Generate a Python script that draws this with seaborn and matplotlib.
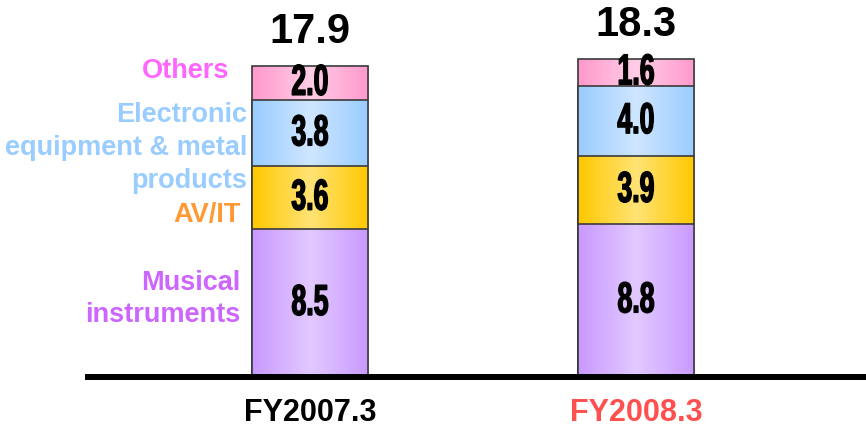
import matplotlib
matplotlib.use("Agg")
import numpy as np
import pandas as pd
import matplotlib.pyplot as plt
import seaborn as sns
from matplotlib.patheffects import AbstractPathEffect
from matplotlib.transforms import Affine2D
from matplotlib.colors import LinearSegmentedColormap

# Sales by business segment (billion yen)
years = ["FY2007.3", "FY2008.3"]
musical = [8.5, 8.8]
av_it = [3.6, 3.9]
electronic = [3.8, 4.0]
others = [2.0, 1.6]
totals = [17.9, 18.3]

segment_names = ["Musical\ninstruments", "AV/IT",
                 "Electronic\nequipment & metal\nproducts", "Others"]
segment_values = [musical, av_it, electronic, others]
# (edge colour, centre colour) of the horizontal gradient fill
segment_fills = [("#C999FF", "#E2C9FF"),
                 ("#FFC800", "#FFE375"),
                 ("#99CCFF", "#CFE6FF"),
                 ("#FF99CC", "#FFCDE6")]
segment_text_colors = ["#CC66FF", "#FF9933", "#99CCFF", "#FF66FF"]
year_colors = ["#000000", "#FF5050"]

sns.set_theme(style="white")
plt.rcParams["font.family"] = ["Liberation Sans", "DejaVu Sans"]


class Stretch(AbstractPathEffect):
    """Scale glyph outlines about their own centre and thicken them slightly
    (condensed, tall, heavy digits)."""

    def __init__(self, sx, sy, stroke=0.0):
        super().__init__()
        self.sx, self.sy, self.stroke = sx, sy, stroke

    def draw_path(self, renderer, gc, tpath, affine, rgbFace=None):
        ext = tpath.get_extents()
        cx, cy = (ext.x0 + ext.x1) / 2, (ext.y0 + ext.y1) / 2
        t = (Affine2D().translate(-cx, -cy).scale(self.sx, self.sy)
             .translate(cx, cy) + affine)
        gc0 = renderer.new_gc()
        gc0.copy_properties(gc)
        if self.stroke > 0:
            gc0.set_linewidth(self.stroke)
            gc0.set_foreground(rgbFace if rgbFace is not None else "black")
            gc0.set_joinstyle("round")
        renderer.draw_path(gc0, tpath, t, rgbFace)
        gc0.restore()


W, H = 866, 428
fig = plt.figure(figsize=(W / 100, H / 100), dpi=100)
base_px = 377          # baseline, pixels from top
px_per_unit = 17.4
ax = fig.add_axes([0, (H - base_px) / H, 1, base_px / H])

df = pd.DataFrame({"year": years})
cum = np.cumsum(np.array(segment_values), axis=0)   # stacked tops
n_seg = len(segment_values)

bar_width = 0.356
# draw from the tallest stack down so each lower segment sits on top
for k in range(n_seg - 1, -1, -1):
    z = n_seg - k
    df["top"] = cum[k]
    n_before = len(ax.patches)
    sns.barplot(data=df, x="year", y="top", width=bar_width, ax=ax,
                color=segment_fills[k][0], edgecolor="#3a3a3a",
                linewidth=1.2, errorbar=None, zorder=z)
    edge, centre = segment_fills[k]
    cmap = LinearSegmentedColormap.from_list(f"g{k}", [edge, centre, edge])
    grad = np.linspace(0, 1, 256)[None, :]
    for patch in ax.patches[n_before:]:
        x0, y0 = patch.get_x(), patch.get_y()
        x1, y1 = x0 + patch.get_width(), y0 + patch.get_height()
        im = ax.imshow(grad, extent=[x0, x1, y0, y1], aspect="auto",
                       cmap=cmap, interpolation="bilinear", zorder=z + 0.1)
        im.set_clip_path(patch)
        patch.set_facecolor("none")
        patch.set_zorder(z + 0.2)

# segment values inside the bars
for k, vals in enumerate(segment_values):
    for i, v in enumerate(vals):
        ax.text(i, cum[k][i] - v / 2, f"{v:.1f}", ha="center", va="center",
                fontsize=24, fontweight="bold", color="black", zorder=20,
                path_effects=[Stretch(0.8, 1.3, stroke=1.0)])

# totals above the bars
for i, t in enumerate(totals):
    ax.annotate(f"{t:.1f}", (i, t), xytext=(0, 10), textcoords="offset points",
                ha="center", va="bottom", fontsize=30, fontweight="bold",
                color="black", zorder=20)

# segment names on the left
label_pos = [(240, 299), (241, 215), (247, 148), (229, 71)]
for name, col, (px, py) in zip(segment_names, segment_text_colors, label_pos):
    fig.text(px / W, 1 - py / H, name, ha="right", va="center",
             fontsize=19.5, fontweight="bold", color=col, linespacing=1.35,
             multialignment="right")

ax.axhline(0, xmin=85 / W, xmax=1, color="black", lw=4.3, zorder=30,
           solid_capstyle="butt", clip_on=False)

ax.set_xlim(-310 / 326, (W - 310) / 326)
ax.set_ylim(0, base_px / px_per_unit)
ax.set_xticks([0, 1])
ax.set_xticklabels(years, fontsize=22, fontweight="bold")
for lbl, c in zip(ax.get_xticklabels(), year_colors):
    lbl.set_color(c)
ax.tick_params(axis="x", length=0, pad=15)
ax.set_yticks([])
ax.set_xlabel("")
ax.set_ylabel("")
for s in ax.spines.values():
    s.set_visible(False)
ax.patch.set_alpha(0)

fig.savefig("out.png", dpi=100)
